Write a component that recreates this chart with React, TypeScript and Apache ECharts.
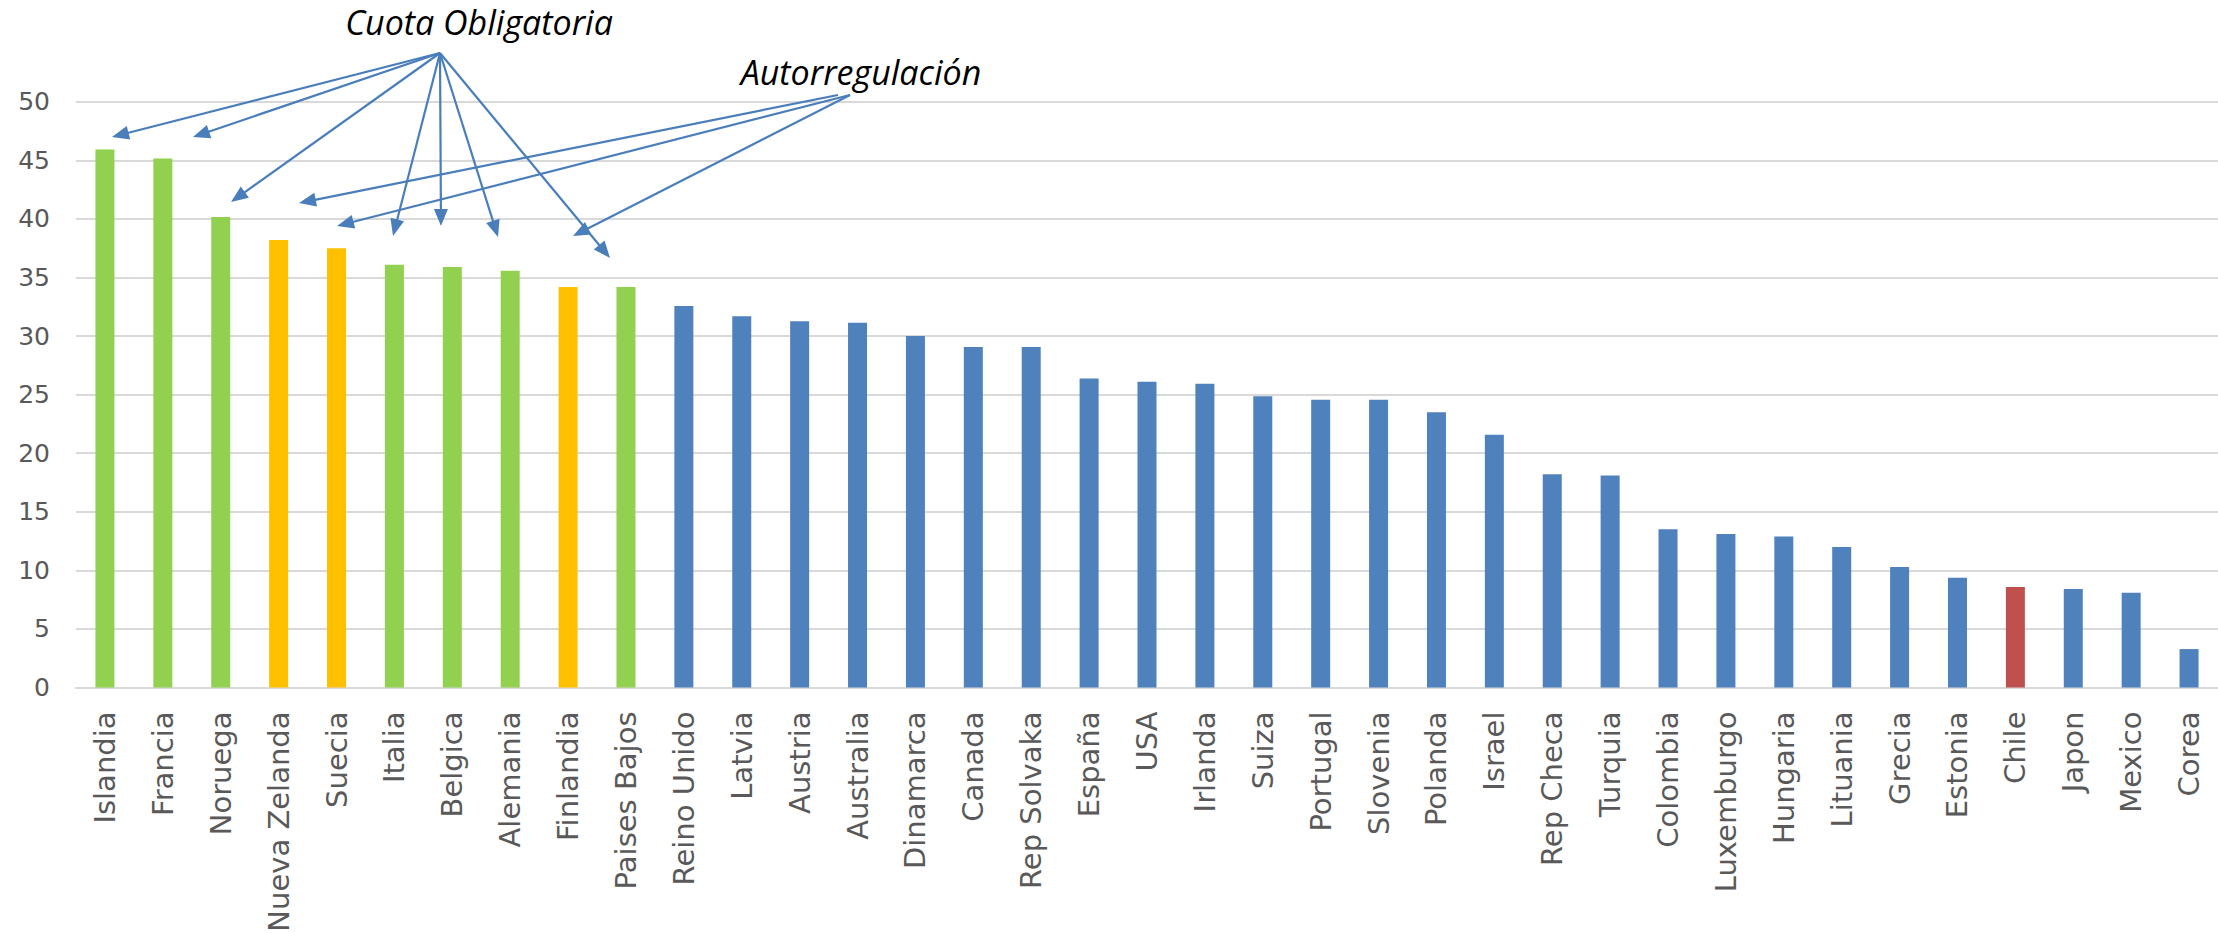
import React, { useEffect, useRef } from "react";
import * as echarts from "echarts";

const categories = [
  "Islandia", "Francia", "Noruega", "Nueva Zelanda", "Suecia", "Italia", "Belgica", "Alemania",
  "Finlandia", "Paises Bajos", "Reino Unido", "Latvia", "Austria", "Australia", "Dinamarca",
  "Canada", "Rep Solvaka", "España", "USA", "Irlanda", "Suiza", "Portugal", "Slovenia", "Polanda",
  "Israel", "Rep Checa", "Turquia", "Colombia", "Luxemburgo", "Hungaria", "Lituania", "Grecia",
  "Estonia", "Chile", "Japon", "Mexico", "Corea",
];

const values = [
  45.93, 45.16, 40.17, 38.2, 37.5, 36.09, 35.9, 35.57, 34.2, 34.2, 32.57, 31.69, 31.26, 31.14,
  30.0, 29.06, 29.06, 26.37, 26.11, 25.94, 24.86, 24.57, 24.57, 23.49, 21.57, 18.2, 18.1, 13.5,
  13.1, 12.9, 12.0, 10.29, 9.37, 8.57, 8.4, 8.08, 3.28,
];

// Regulation type per country
const groups = [
  "cuota", "cuota", "cuota", "auto", "auto", "cuota", "cuota", "cuota", "auto", "cuota",
  "otro", "otro", "otro", "otro", "otro", "otro", "otro", "otro", "otro", "otro", "otro", "otro",
  "otro", "otro", "otro", "otro", "otro", "otro", "otro", "otro", "otro", "otro", "otro", "chile",
  "otro", "otro", "otro",
];

const yTicks = { min: 0, max: 50, interval: 5 };

const annotationLabels = ["Cuota Obligatoria", "Autorregulación"];

const groupColors: Record<string, string> = {
  cuota: "#92D050",
  auto: "#FFC000",
  otro: "#4F81BD",
  chile: "#C0504D",
};

// Annotation arrows (pixel layout): [fromX, fromY, toX, toY]
const cuotaArrows = [
  [440, 53, 112, 137],
  [440, 53, 193, 137],
  [440, 53, 231, 202],
  [440, 53, 393, 236],
  [440, 53, 441, 226],
  [440, 53, 498, 237],
  [440, 53, 610, 258],
];
const autoArrows = [
  [838, 95, 299, 203],
  [850, 95, 337, 226],
  [850, 95, 573, 236],
];

const ARROW_COLOR = "#4A7EBB";

function arrowElements(a: number[]) {
  const [x1, y1, x2, y2] = a;
  const dx = x2 - x1;
  const dy = y2 - y1;
  const len = Math.sqrt(dx * dx + dy * dy);
  const ux = dx / len;
  const uy = dy / len;
  const L = 17;
  const W = 7;
  const bx = x2 - ux * L;
  const by = y2 - uy * L;
  const px = -uy;
  const py = ux;
  return [
    {
      type: "line",
      shape: { x1, y1, x2: bx + ux * 2, y2: by + uy * 2 },
      style: { stroke: ARROW_COLOR, lineWidth: 2.2 },
      z: 10,
    },
    {
      type: "polygon",
      shape: {
        points: [
          [x2, y2],
          [bx + px * W, by + py * W],
          [bx - px * W, by - py * W],
        ],
      },
      style: { fill: ARROW_COLOR },
      z: 10,
    },
  ];
}

export default function App() {
  const ref = useRef<HTMLDivElement>(null);

  useEffect(() => {
    if (!ref.current) return;
    const chart = echarts.init(ref.current, undefined, { renderer: "svg" });

    const graphics: any[] = [];
    cuotaArrows.forEach((a) => graphics.push(...arrowElements(a)));
    autoArrows.forEach((a) => graphics.push(...arrowElements(a)));
    graphics.push({
      type: "text",
      x: 479,
      y: 22,
      z: 11,
      style: {
        text: annotationLabels[0],
        font: "italic 34px 'Open Sans'",
        fill: "#000000",
        textAlign: "center",
        textVerticalAlign: "middle",
      },
    });
    graphics.push({
      type: "text",
      x: 861,
      y: 72,
      z: 11,
      style: {
        text: annotationLabels[1],
        font: "italic 34px 'Open Sans'",
        fill: "#000000",
        textAlign: "center",
        textVerticalAlign: "middle",
      },
    });

    chart.setOption({
      animation: false,
      backgroundColor: "#ffffff",
      grid: {
        left: 76,
        right: 0,
        top: 101.8,
        bottom: 245.5,
        containLabel: false,
        outerBoundsMode: "none",
      },
      xAxis: {
        type: "category",
        data: categories,
        axisLine: { show: true, lineStyle: { color: "#D9D9D9", width: 2 } },
        axisTick: { show: false },
        axisLabel: {
          rotate: 90,
          interval: 0,
          margin: 24,
          color: "#595959",
          fontFamily: "DejaVu Sans",
          fontSize: 29,
        },
      },
      yAxis: {
        type: "value",
        min: yTicks.min,
        max: yTicks.max,
        interval: yTicks.interval,
        axisLine: { show: false },
        axisTick: { show: false },
        splitLine: { lineStyle: { color: "#D9D9D9", width: 2 } },
        axisLabel: {
          margin: 26,
          color: "#595959",
          fontFamily: "DejaVu Sans",
          fontSize: 25,
        },
      },
      series: [
        {
          type: "bar",
          barWidth: 19,
          data: values.map((v, i) => ({
            value: v,
            itemStyle: { color: groupColors[groups[i]] },
          })),
        },
      ],
      graphic: graphics,
    });

    return () => chart.dispose();
  }, []);

  return (
    <div
      ref={ref}
      style={{ position: "absolute", left: 0, top: 0, width: "2218px", height: "933px" }}
    />
  );
}
